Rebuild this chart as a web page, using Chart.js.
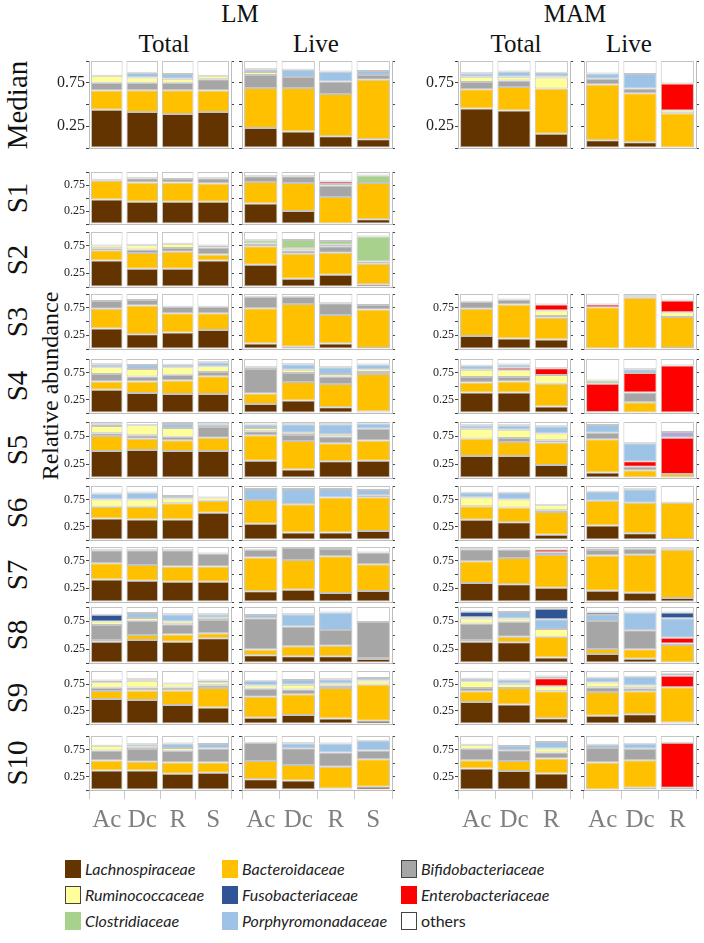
<!DOCTYPE html>
<html>
<head>
<meta charset="utf-8">
<script src="https://cdn.jsdelivr.net/npm/chart.js@4.4.1/dist/chart.umd.min.js"></script>
<style>
  body { margin: 0; background: #fff; }
  #stage { position: relative; width: 704px; height: 943px; overflow: hidden; font-family: "Liberation Serif", "Times New Roman", serif; }
  .t { position: absolute; transform: translate(-50%, -50%); white-space: nowrap; color: #111; }
  .rot { transform: translate(-50%, -50%) rotate(-90deg); }
  .sw { position: absolute; width: 16px; height: 18px; box-sizing: border-box; }
  .lg { position: absolute; font-family: Lato, "Open Sans", sans-serif; font-style: italic; font-size: 16px; color: #222; line-height: 18px; }
</style>
</head>
<body>
<div id="stage"></div>
<script>
// stacking order, bottom to top
const families = ['Lachnospiraceae', 'Bacteroidaceae', 'Bifidobacteriaceae', 'Ruminococcaceae',
  'Enterobacteriaceae', 'Clostridiaceae', 'Porphyromonadaceae', 'Fusobacteriaceae', 'unlabelled', 'others'];
const familyColors = ['#633400', '#ffc000', '#a6a6a6', '#ffff99',
  '#ff0000', '#a9d18e', '#9dc3e6', '#2f5597', '#b4a7d6', '#ffffff'];
const legendOrder = ['Lachnospiraceae', 'Ruminococcaceae', 'Clostridiaceae',
  'Bacteroidaceae', 'Fusobacteriaceae', 'Porphyromonadaceae',
  'Bifidobacteriaceae', 'Enterobacteriaceae', 'others'];

const rowNames = ['Median', 'S1', 'S2', 'S3', 'S4', 'S5', 'S6', 'S7', 'S8', 'S9', 'S10'];
const lmSites = ['Ac', 'Dc', 'R', 'S'];
const mamSites = ['Ac', 'Dc', 'R'];
const yTickLabels = [0.25, 0.75];

// each bar: [La, Ba, Bi, Ru, En, Cl, Po, Fu, unlabelled, others]
const lmTotal = [
  [[.44,.22,.09,.08,0,0,0,0,0,.17], [.415,.25,.085,.06,0,0,.055,0,0,.135], [.39,.275,.085,.045,0,0,.055,0,0,.15], [.415,.245,.13,.04,0,0,0,0,0,.17]],
  [[.47,.36,.02,0,0,0,0,0,0,.15], [.43,.37,.08,0,0,0,0,0,0,.12], [.43,.37,.065,0,0,0,0,0,0,.135], [.43,.35,.10,0,0,0,0,0,0,.12]],
  [[.48,.19,.035,.05,0,0,0,0,0,.245], [.33,.29,.06,.08,0,0,0,0,0,.24], [.33,.31,.07,.075,0,0,0,0,0,.215], [.48,.11,.13,.035,0,0,0,0,0,.245]],
  [[.375,.355,.145,0,0,0,0,0,0,.125], [.27,.52,.10,0,0,0,0,0,0,.11], [.30,.35,.12,0,0,0,0,0,0,.23], [.345,.305,.12,0,0,0,0,0,0,.23]],
  [[.43,.155,.135,.125,0,0,.06,0,0,.095], [.37,.215,.09,.14,0,0,.075,0,0,.11], [.35,.25,.11,.135,0,0,.05,0,0,.105], [.35,.33,.08,.105,0,0,.075,0,0,.06]],
  [[.48,.27,.05,.13,0,0,.03,0,0,.04], [.50,.20,.065,.175,0,0,0,0,0,.06], [.48,.195,.06,.16,0,0,.07,0,0,.035], [.48,.24,.19,0,0,0,.05,0,0,.04]],
  [[.40,.215,0,.135,0,0,.11,0,0,.14], [.38,.235,0,.135,0,0,.13,0,0,.12], [.38,.30,0,.09,0,0,.045,0,0,.185], [.505,.22,0,.06,0,0,0,0,0,.215]],
  [[.41,.295,.235,0,0,0,0,0,0,.06], [.385,.29,.265,0,0,0,0,0,0,.06], [.37,.275,.295,0,0,0,0,0,0,.06], [.37,.275,.235,0,0,0,0,0,0,.12]],
  [[.38,.03,.27,.06,0,0,0,.12,0,.14], [.41,.09,.255,.05,0,0,.09,0,0,.105], [.38,.13,.18,.05,0,0,.13,0,0,.13], [.44,.09,.24,.04,0,0,.06,0,0,.13]],
  [[.47,.155,.06,.105,0,0,.03,0,0,.18], [.455,.175,.06,.125,0,0,.03,0,0,.155], [.36,.27,.06,.075,0,0,0,0,0,.235], [.31,.37,.05,.06,0,0,.03,0,0,.18]],
  [[.36,.185,.185,.09,0,0,0,0,0,.18], [.36,.165,.235,.04,0,0,.045,0,0,.155], [.30,.21,.215,.055,0,0,.08,0,0,.14], [.32,.19,.26,0,0,0,.08,0,0,.15]]
];

const lmLive = [
  [[.23,.46,.15,.035,0,0,.03,0,0,.095], [.19,.50,.125,0,0,0,.085,0,0,.10], [.135,.485,.145,0,0,0,.115,0,0,.12], [.10,.685,.055,0,0,0,.045,0,0,.115]],
  [[.395,.415,.11,0,0,0,0,0,0,.08], [.25,.54,.13,0,0,0,0,0,0,.08], [.01,.51,.22,.03,.045,0,0,0,0,.185], [.09,.70,0,0,0,.145,0,0,0,.065]],
  [[.405,.335,.05,0,0,.06,0,0,0,.15], [.15,.455,.06,.04,0,.15,0,0,0,.145], [.225,.40,.115,.03,0,.065,0,0,0,.165], [.05,.375,.04,0,0,.455,0,0,0,.08]],
  [[.10,.64,.21,0,0,0,0,0,0,.05], [.04,.78,.13,0,0,0,0,0,0,.05], [.10,.52,.21,0,0,0,0,0,0,.17], [.02,.70,.08,0,0,0,0,0,0,.20]],
  [[.165,.195,.455,.03,0,0,0,0,0,.155], [.23,.345,.165,.06,0,0,.105,0,0,.095], [.105,.43,.14,.045,0,0,.125,0,0,.155], [.03,.69,.04,.05,0,0,.09,0,0,.10]],
  [[.31,.455,.07,.06,0,0,.06,0,0,.045], [.15,.51,.11,.04,0,0,.15,0,0,.04], [.30,.32,.12,.04,0,0,.18,0,0,.04], [.31,.36,.21,0,0,0,.095,0,0,.025]],
  [[.30,.44,0,0,0,0,.205,0,0,.055], [.14,.52,0,0,0,0,.285,0,0,.055], [.14,.645,0,0,0,0,.16,0,0,.055], [.165,.625,0,.04,0,0,.095,0,0,.075]],
  [[.195,.615,.14,0,0,0,0,0,0,.05], [.225,.54,.215,0,0,0,0,0,0,.02], [.165,.665,.135,0,0,0,0,0,0,.035], [.20,.485,.215,0,0,0,0,0,0,.10]],
  [[.14,.10,.56,0,0,0,.055,0,0,.145], [.12,.18,.35,0,0,0,.22,0,0,.13], [.12,.19,.28,0,0,0,.31,0,0,.10], [.07,.02,.64,0,0,0,0,0,0,.27]],
  [[.12,.395,.15,.06,0,0,.09,0,0,.185], [.17,.39,.09,.09,0,0,.09,0,0,.17], [.105,.575,.04,.05,0,0,.075,0,0,.155], [.06,.685,0,.075,0,0,.05,0,0,.13]],
  [[.20,.335,.34,0,0,0,0,0,0,.125], [.175,.29,.31,0,0,0,.09,0,0,.135], [.03,.40,.265,0,0,0,.165,0,0,.14], [.06,.51,.16,0,0,0,.18,0,0,.09]]
];

// no MAM samples for S1 and S2
const mamTotal = [
  [[.455,.22,.085,.06,0,0,.04,0,0,.14], [.43,.27,.075,.045,0,0,.06,0,0,.12], [.165,.52,0,.125,.015,0,.04,0,0,.135]],
  null,
  null,
  [[.235,.495,.13,0,0,0,0,0,0,.14], [.19,.62,.09,0,0,0,0,0,0,.10], [.175,.395,.03,.10,.11,0,0,0,0,.19]],
  [[.38,.185,.10,.135,0,0,.075,0,0,.125], [.38,.205,.08,.125,.05,0,.06,0,0,.10], [.12,.42,0,.165,.125,0,0,0,0,.17]],
  [[.395,.31,0,.175,0,0,.06,0,0,.06], [.395,.25,.07,.145,0,0,.08,0,0,.06], [.23,.40,.045,.12,0,0,.13,0,0,.075]],
  [[.375,.25,0,.16,0,0,.09,0,0,.125], [.33,.27,0,.15,0,0,.125,0,0,.125], [.095,.425,.03,.095,0,0,0,0,0,.355]],
  [[.345,.395,.22,0,0,0,0,0,0,.04], [.325,.475,.155,0,0,0,0,0,0,.045], [.26,.595,.05,0,.05,0,0,0,0,.045]],
  [[.38,.03,.295,.09,0,0,.02,.10,0,.085], [.37,.10,.265,.06,0,0,.115,0,0,.09], [.10,.37,0,.135,0,0,.175,.19,0,.03]],
  [[.415,.205,.06,.125,0,0,.05,0,0,.145], [.37,.31,0,.07,.02,0,.07,0,0,.16], [.11,.51,0,.09,.155,0,.03,0,0,.105]],
  [[.40,.15,.215,.075,0,0,0,0,0,.16], [.35,.185,.20,0,0,0,.08,0,0,.185], [.305,.28,.11,.075,0,0,.12,0,0,.11]]
];

const mamLive = [
  [[.09,.64,.065,0,0,0,.06,0,0,.145], [.065,.565,.055,0,0,0,.165,0,0,.15], [0,.40,0,.03,.31,0,0,0,0,.26]],
  null,
  null,
  [[.01,.75,0,0,.05,0,0,0,0,.19], [0,.93,.03,0,0,0,0,0,0,.04], [.02,.56,0,.09,.21,0,0,0,0,.12]],
  [[0,.02,0,0,.52,.06,0,0,0,.40], [.01,.19,.18,0,.36,0,.07,0,0,.19], [.01,0,0,0,.87,0,0,0,0,.12]],
  [[.10,.59,.12,0,0,0,.135,0,0,.055], [.01,.13,.06,0,.10,0,.32,0,0,.38], [0,.07,0,0,.65,0,0,0,.10,.18]],
  [[.27,.455,0,0,0,0,.17,0,0,.105], [.125,.565,0,0,0,0,.25,0,0,.06], [.02,.67,0,0,0,0,0,0,0,.31]],
  [[.205,.64,.10,0,.03,0,0,0,0,.025], [.17,.69,.11,0,0,0,0,0,0,.03], [.075,.875,.02,0,.015,0,0,0,0,.015]],
  [[.16,.09,.50,0,0,0,.105,.045,0,.10], [.075,.17,.34,0,0,0,.315,0,0,.10], [0,.32,0,.03,.10,0,.35,.10,0,.10]],
  [[.155,.45,.09,.09,0,0,.09,0,0,.125], [.185,.435,.055,.05,0,0,.165,0,0,.11], [.03,.665,0,0,.215,0,.04,0,0,.05]],
  [[0,.51,.27,0,0,0,.06,0,0,.16], [.04,.51,.215,0,0,0,.09,0,0,.145], [0,.04,0,0,.835,0,0,0,0,.125]]
];

// =========================
// Layout
// =========================
const stage = document.getElementById('stage');
const SERIF = '"Liberation Serif", "Times New Roman", serif';
const rowTop = [61, 172, 232, 294, 359, 422, 486, 547, 607, 671, 736];
const rowBottom = [148, 224, 287, 349, 413, 478, 540, 602, 663, 724, 790];

const groups = [
  { data: lmTotal, sites: lmSites, x0: 89, x1: 231, labels: true },
  { data: lmLive, sites: lmSites, x0: 242, x1: 392, labels: false },
  { data: mamTotal, sites: mamSites, x0: 458, x1: 570, labels: true },
  { data: mamLive, sites: mamSites, x0: 584, x1: 696, labels: false }
];

function addText(txt, x, y, size, extra) {
  const d = document.createElement('div');
  d.className = 't' + (extra && extra.rot ? ' rot' : '');
  d.textContent = txt;
  d.style.left = x + 'px';
  d.style.top = y + 'px';
  d.style.fontSize = size + 'px';
  stage.appendChild(d);
}

// headers
addText('LM', 240, 14, 25);
addText('MAM', 575, 14, 25);
addText('Total', 164, 44, 25);
addText('Live', 316, 44, 25);
addText('Total', 516, 44, 25);
addText('Live', 629, 44, 25);
addText('Relative abundance', 50, 386, 24, { rot: true });

rowNames.forEach((name, r) => {
  addText(name, 17, (rowTop[r] + rowBottom[r]) / 2, 29, { rot: true });
});

function makePanel(group, r) {
  const bars = group.data[r];
  if (!bars) return;
  const last = r === rowNames.length - 1;
  const axL = group.labels ? 40 : 4, axR = 4, padT = 3;
  const padB = last ? 0 : 3, xH = last ? 46 : 0;
  const w = group.x1 - group.x0 + axL + axR;
  const h = rowBottom[r] - rowTop[r] + padT + padB + xH;

  const cv = document.createElement('canvas');
  cv.width = w;
  cv.height = h;
  cv.style.cssText = `position:absolute;left:${group.x0 - axL}px;top:${rowTop[r] - padT}px;width:${w}px;height:${h}px`;
  stage.appendChild(cv);

  const datasets = families.map((name, f) => ({
    label: name,
    data: bars.map(b => b[f] || null),
    backgroundColor: familyColors[f],
    borderColor: '#c4c4c4',
    borderWidth: 1,
    borderSkipped: false,
    barPercentage: 0.89,
    categoryPercentage: 1
  }));

  const tickGrid = { display: true, drawOnChartArea: false, drawTicks: true, tickLength: 3, color: '#444' };
  const noPad = s => { s.paddingTop = 0; s.paddingBottom = 0; s.paddingLeft = 0; s.paddingRight = 0; };

  new Chart(cv, {
    type: 'bar',
    data: { labels: group.sites, datasets },
    options: {
      responsive: false,
      animation: false,
      events: [],
      layout: { padding: { top: padT, bottom: padB, left: 0, right: 0 } },
      plugins: { legend: { display: false }, tooltip: { enabled: false } },
      scales: {
        x: {
          stacked: true,
          border: { display: true, color: '#bdbdbd' },
          grid: last
            ? { display: true, drawOnChartArea: false, offset: true, tickLength: 9, color: '#c8c8c8' }
            : { display: false },
          ticks: {
            display: last,
            color: '#7f7f7f',
            padding: 6,
            maxRotation: 0,
            autoSkip: false,
            font: { family: SERIF, size: 25 }
          },
          afterFit: s => { s.height = xH; noPad(s); }
        },
        y: {
          stacked: true,
          min: 0,
          max: 1,
          border: { display: true, color: '#bdbdbd' },
          grid: tickGrid,
          ticks: {
            stepSize: 0.25,
            autoSkip: false,
            display: group.labels,
            padding: 1,
            color: '#222',
            font: { family: SERIF, size: r === 0 ? 16 : 12 },
            callback: v => (yTickLabels.includes(v) ? String(v) : '')
          },
          afterFit: s => { s.width = axL; noPad(s); }
        },
        y2: {
          position: 'right',
          min: 0,
          max: 1,
          border: { display: true, color: '#bdbdbd' },
          grid: tickGrid,
          ticks: { stepSize: 0.25, autoSkip: false, display: false },
          afterFit: s => { s.width = axR; noPad(s); }
        }
      }
    }
  });
}

rowNames.forEach((_, r) => groups.forEach(g => makePanel(g, r)));

// =========================
// Legend
// =========================
const legendCols = [65, 222, 401];
const legendRows = [860, 886, 912];
legendOrder.forEach((name, i) => {
  const col = Math.floor(i / 3), row = i % 3;
  const f = families.indexOf(name);
  const sw = document.createElement('div');
  sw.className = 'sw';
  sw.style.left = legendCols[col] + 'px';
  sw.style.top = legendRows[row] + 'px';
  sw.style.background = familyColors[f];
  if (['Ruminococcaceae', 'Bifidobacteriaceae', 'others'].includes(name)) sw.style.border = '1px solid #444';
  stage.appendChild(sw);

  const lb = document.createElement('div');
  lb.className = 'lg';
  lb.textContent = name;
  lb.style.left = (legendCols[col] + 20) + 'px';
  lb.style.top = legendRows[row] + 'px';
  if (name === 'others') lb.style.fontStyle = 'normal';
  stage.appendChild(lb);
});
</script>
</body>
</html>
